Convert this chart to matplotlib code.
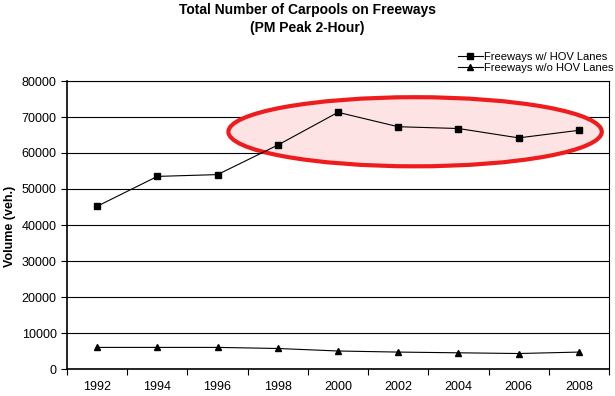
import numpy as np
import matplotlib.pyplot as plt
from matplotlib.patches import Ellipse

plt.rcParams['font.family'] = ['Liberation Sans', 'DejaVu Sans']

years = ['1992', '1994', '1996', '1998', '2000', '2002', '2004', '2006', '2008']
with_hov = [45200, 53500, 54000, 62200, 71300, 67300, 66800, 64200, 66300]
without_hov = [6000, 6000, 6000, 5700, 5000, 4700, 4500, 4300, 4700]

W, H = 615, 396
fig = plt.figure(figsize=(W / 100, H / 100), dpi=100)
ax = fig.add_axes([67 / W, 27 / H, 542 / W, 288 / H])

x = np.arange(len(years))

# highlight ellipse behind the lines
ell = Ellipse((5.28, 65900), 6.2, 19200, facecolor='#fde3e4',
              edgecolor='#ee1c1c', linewidth=3, zorder=1)
ax.add_patch(ell)

ax.plot(x, with_hov, color='black', lw=0.8, marker='s', ms=5,
        label='Freeways w/ HOV Lanes', zorder=3)
ax.plot(x, without_hov, color='black', lw=0.8, marker='^', ms=5,
        label='Freeways w/o HOV Lanes', zorder=3)

ax.set_xlim(-0.5, len(years) - 0.5)
ax.set_ylim(0, 80000)
ax.set_yticks(np.arange(0, 80001, 10000))
ax.yaxis.grid(True, color='black', lw=0.8)
ax.set_axisbelow(True)

ax.set_xticks(x)
ax.set_xticklabels(years)
ax.set_xticks(np.arange(-0.5, len(years)), minor=True)
ax.tick_params(axis='x', which='major', length=0, pad=9, labelsize=9)
ax.tick_params(axis='x', which='minor', length=4, width=0.8, direction='out')
ax.tick_params(axis='y', length=4, width=0.8, direction='out', labelsize=9)

for sp in ax.spines.values():
    sp.set_linewidth(0.8)
ax.spines['left'].set_linewidth(1.2)
ax.spines['bottom'].set_linewidth(1.2)

fig.text(10 / W, 1 - 226 / H, 'Volume (veh.)', rotation=90,
         ha='center', va='center', fontsize=9, fontweight='bold')

fig.text(0.5, 1 - 10 / H, 'Total Number of Carpools on Freeways',
         ha='center', va='center', fontsize=10, fontweight='bold')
fig.text(0.5, 1 - 28 / H, '(PM Peak 2-Hour)',
         ha='center', va='center', fontsize=10, fontweight='bold')

ax.legend(loc='lower right', bbox_to_anchor=(620 / W, 1 - 80 / H),
          bbox_transform=fig.transFigure, frameon=False,
          fontsize=8, handlelength=2.2, handletextpad=0.1, borderpad=0.1,
          labelspacing=0.15, markerscale=0.9)

fig.savefig('out.png', dpi=100)
